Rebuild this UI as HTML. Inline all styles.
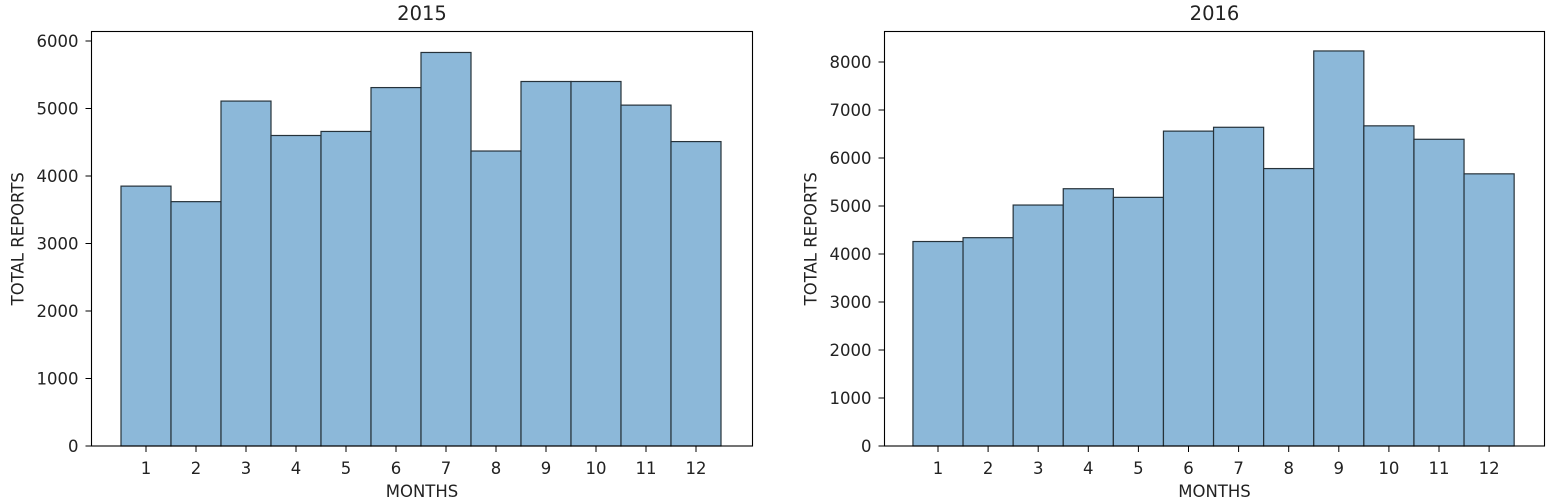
<!DOCTYPE html>
<html><head><meta charset="utf-8"><style>
body{margin:0;background:#fff;}
svg{display:block;font-family:"DejaVu Sans","Liberation Sans",sans-serif;}
</style></head><body>
<svg id="c" width="1548" height="500"></svg>
<script>
const months=[1,2,3,4,5,6,7,8,9,10,11,12];
const values2015=[3850,3620,5110,4600,4660,5310,5830,4370,5400,5400,5050,4510];
const values2016=[4260,4340,5020,5360,5180,6560,6640,5780,8230,6670,6390,5670];
const ticks2015=[0,1000,2000,3000,4000,5000,6000];
const ticks2016=[0,1000,2000,3000,4000,5000,6000,7000,8000];
const svg=document.getElementById('c');
const NS='http://www.w3.org/2000/svg';
function mk(t,a,p){const e=document.createElementNS(NS,t);for(const k in a)e.setAttribute(k,a[k]);(p||svg).appendChild(e);return e;}
function panel(name,title,vals,ticks,L,R,x1,dx,perK){
  const T=31.5,B=446;
  const g=mk('g',{});
  
  
  const xs=m=>x1+(m-1)*dx;
  const ys=v=>B-v*perK/1000;
  vals.forEach((v,i)=>{
    const r=mk('rect',{x:xs(months[i])-dx/2,y:ys(v),width:dx,height:B-ys(v),fill:'#8cb8d9',stroke:'#26323a','stroke-width':1.2},g);
    
    
  });
  const ax=mk('rect',{x:L,y:T,width:R-L,height:B-T,fill:'none',stroke:'#000','stroke-width':1.1},g);
  
  
  ticks.forEach(t=>{
    const y=ys(t);
    mk('line',{x1:L-6,x2:L,y1:y,y2:y,stroke:'#000'},g);
    const tx=mk('text',{x:L-13,y:y+6,'text-anchor':'end','font-size':16.5,fill:'#222'},g);
    tx.textContent=t;
    
    
  });
  months.forEach(m=>{
    const x=xs(m);
    mk('line',{x1:x,x2:x,y1:B,y2:B+6,stroke:'#000'},g);
    const tx=mk('text',{x:x,y:B+28,'text-anchor':'middle','font-size':16.5,fill:'#222'},g);
    tx.textContent=m;
    
    
  });
  const tt=mk('text',{x:(L+R)/2,y:20,'text-anchor':'middle','font-size':19.5,fill:'#222'},g);
  tt.textContent=title;
  
  
  const xl=mk('text',{x:(L+R)/2,y:497,'text-anchor':'middle','font-size':16.5,fill:'#222'},g);
  xl.textContent='MONTHS';
  
  
  const yx=L-68,yy=(T+B)/2;
  const yl=mk('text',{x:yx,y:yy,'text-anchor':'middle','font-size':16.5,fill:'#222',transform:`rotate(-90 ${yx} ${yy})`},g);
  yl.textContent='TOTAL REPORTS';
  
  
}
panel('chart-2015','2015',values2015,ticks2015,91.5,752.5,146,50,67.5);
panel('chart-2016','2016',values2016,ticks2016,884.5,1544.5,938,50.1,48);
</script>
</body></html>
